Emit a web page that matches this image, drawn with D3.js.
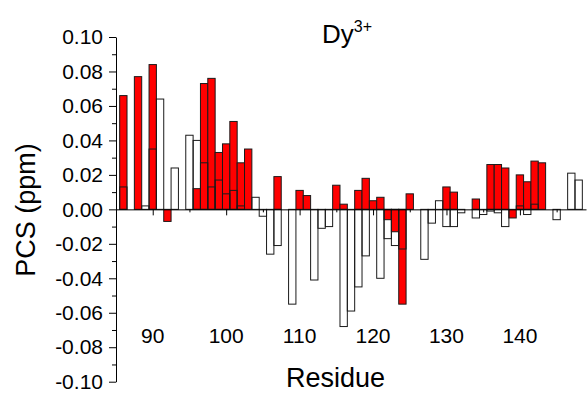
<!DOCTYPE html>
<html>
<head>
<meta charset="utf-8">
<script src="https://cdn.jsdelivr.net/npm/d3@7"></script>
<style>
  html, body { margin: 0; padding: 0; background: #fff; }
  svg text { font-family: "Liberation Sans", Arial, sans-serif; fill: #000; }
</style>
</head>
<body>
<svg id="chart" width="587" height="394"></svg>
<script>
// ---- data ----
const residues = d3.range(86, 149);
// red (filled) series, null = no bar
const redValues = [
  0.066, null, 0.077, null, 0.084, null, -0.007, null, null, null,   // 86-95
  0.012, 0.073, 0.076, 0.033, 0.038, 0.051, 0.027, 0.035, null, null, // 96-105
  null, 0.019, null, null, 0.011, 0.008, null, null, null, 0.014,     // 106-115
  0.003, null, 0.011, 0.018, 0.005, 0.007, -0.006, -0.013, -0.055, 0.009, // 116-125
  null, null, null, null, 0.013, 0.010, null, null, 0.006, null,       // 126-135
  0.026, 0.026, 0.024, -0.005, 0.020, 0.016, 0.028, 0.027, null, null, // 136-145
  null, null, null                                                    // 146-148
];
// white (open) series
const whiteValues = [
  0.013, null, null, 0.002, 0.035, 0.064, null, 0.024, null, 0.043,   // 86-95
  0.040, 0.027, 0.013, 0.017, 0.009, 0.011, 0.002, null, 0.007, -0.004, // 96-105
  -0.026, -0.021, null, -0.055, null, null, -0.041, -0.011, -0.010, null, // 106-115
  -0.068, -0.059, -0.045, -0.027, null, -0.040, -0.017, -0.021, -0.023, null, // 116-125
  null, -0.029, -0.008, 0.005, -0.010, -0.010, -0.002, null, -0.005, -0.003, // 126-135
  -0.001, -0.002, -0.010, null, 0.002, -0.003, 0.003, null, null, -0.006, // 136-145
  null, 0.021, 0.017                                                  // 146-148
];
const xTickLabels = [90, 100, 110, 120, 130, 140];
const xMinorTicks = [90, 95, 100, 105, 110, 115, 120, 125, 130, 135, 140, 145];
const yTickLabels = [-0.10, -0.08, -0.06, -0.04, -0.02, 0.00, 0.02, 0.04, 0.06, 0.08, 0.10];
const yMinorTicks = [-0.09, -0.07, -0.05, -0.03, -0.01, 0.01, 0.03, 0.05, 0.07, 0.09];
const titleMain = "Dy";
const titleSup = "3+";
const xTitle = "Residue";
const yTitle = "PCS (ppm)";

// ---- layout ----
const svg = d3.select("#chart");
const x = d3.scaleLinear().domain([85, 149]).range([116, 586]);
const y = d3.scaleLinear().domain([-0.10, 0.10]).range([381.7, 37]);
const bw = x(1) - x(0);

const redData = residues.map((r, i) => ({ r, v: redValues[i] })).filter(d => d.v !== null);
const whiteData = residues.map((r, i) => ({ r, v: whiteValues[i] })).filter(d => d.v !== null);

// red bars
svg.append("g").selectAll("rect").data(redData).join("rect")
  .attr("x", d => x(d.r - 0.5))
  .attr("width", bw)
  .attr("y", d => y(Math.max(0, d.v)))
  .attr("height", d => Math.abs(y(d.v) - y(0)))
  .attr("fill", "#ff0000")
  .attr("stroke", "#1a1a1a")
  .attr("stroke-width", 1);

// white (open) bars on top
svg.append("g").selectAll("rect").data(whiteData).join("rect")
  .attr("x", d => x(d.r - 0.5))
  .attr("width", bw)
  .attr("y", d => y(Math.max(0, d.v)))
  .attr("height", d => Math.abs(y(d.v) - y(0)))
  .attr("fill", "none")
  .attr("stroke", "#1a1a1a")
  .attr("stroke-width", 1);

// x axis at zero
const fmtY = v => d3.format(".2f")(v).replace("\u2212", "-");
const xAxis = svg.append("g").attr("transform", `translate(0,${y(0)})`)
  .call(d3.axisBottom(x).tickValues(xMinorTicks)
    .tickSize(3).tickSizeOuter(0).tickFormat(""));
xAxis.selectAll(".tick line").filter(d => d % 10 === 0).attr("y2", 6);
xAxis.select(".domain").attr("stroke", "#000").attr("stroke-width", 1);

svg.append("g").selectAll("text").data(xTickLabels).join("text")
  .attr("x", d => x(d))
  .attr("y", 343)
  .attr("text-anchor", "middle")
  .style("font-size", "21px")
  .text(d => d);

// y axis
const yAxis = svg.append("g").attr("transform", `translate(${x(85)},0)`)
  .call(d3.axisLeft(y).tickValues(yTickLabels).tickSize(7).tickPadding(6)
    .tickSizeOuter(0).tickFormat(fmtY));
yAxis.selectAll("text").style("font-size", "21px");
yAxis.select(".domain").attr("stroke", "#000").attr("stroke-width", 1);
svg.append("g").attr("transform", `translate(${x(85)},0)`)
  .call(d3.axisLeft(y).tickValues(yMinorTicks).tickSize(4).tickSizeOuter(0).tickFormat(""))
  .select(".domain").remove();

// titles
const t = svg.append("text").attr("x", 322).attr("y", 43).style("font-size", "26px");
t.append("tspan").text(titleMain);
t.append("tspan").attr("dy", -11).style("font-size", "16px").text(titleSup);

svg.append("text")
  .attr("x", 335.5).attr("y", 387)
  .attr("text-anchor", "middle")
  .style("font-size", "27px")
  .text(xTitle);

svg.append("text")
  .attr("transform", "translate(35,210) rotate(-90)")
  .attr("text-anchor", "middle")
  .style("font-size", "27px")
  .text(yTitle);
</script>
</body>
</html>
